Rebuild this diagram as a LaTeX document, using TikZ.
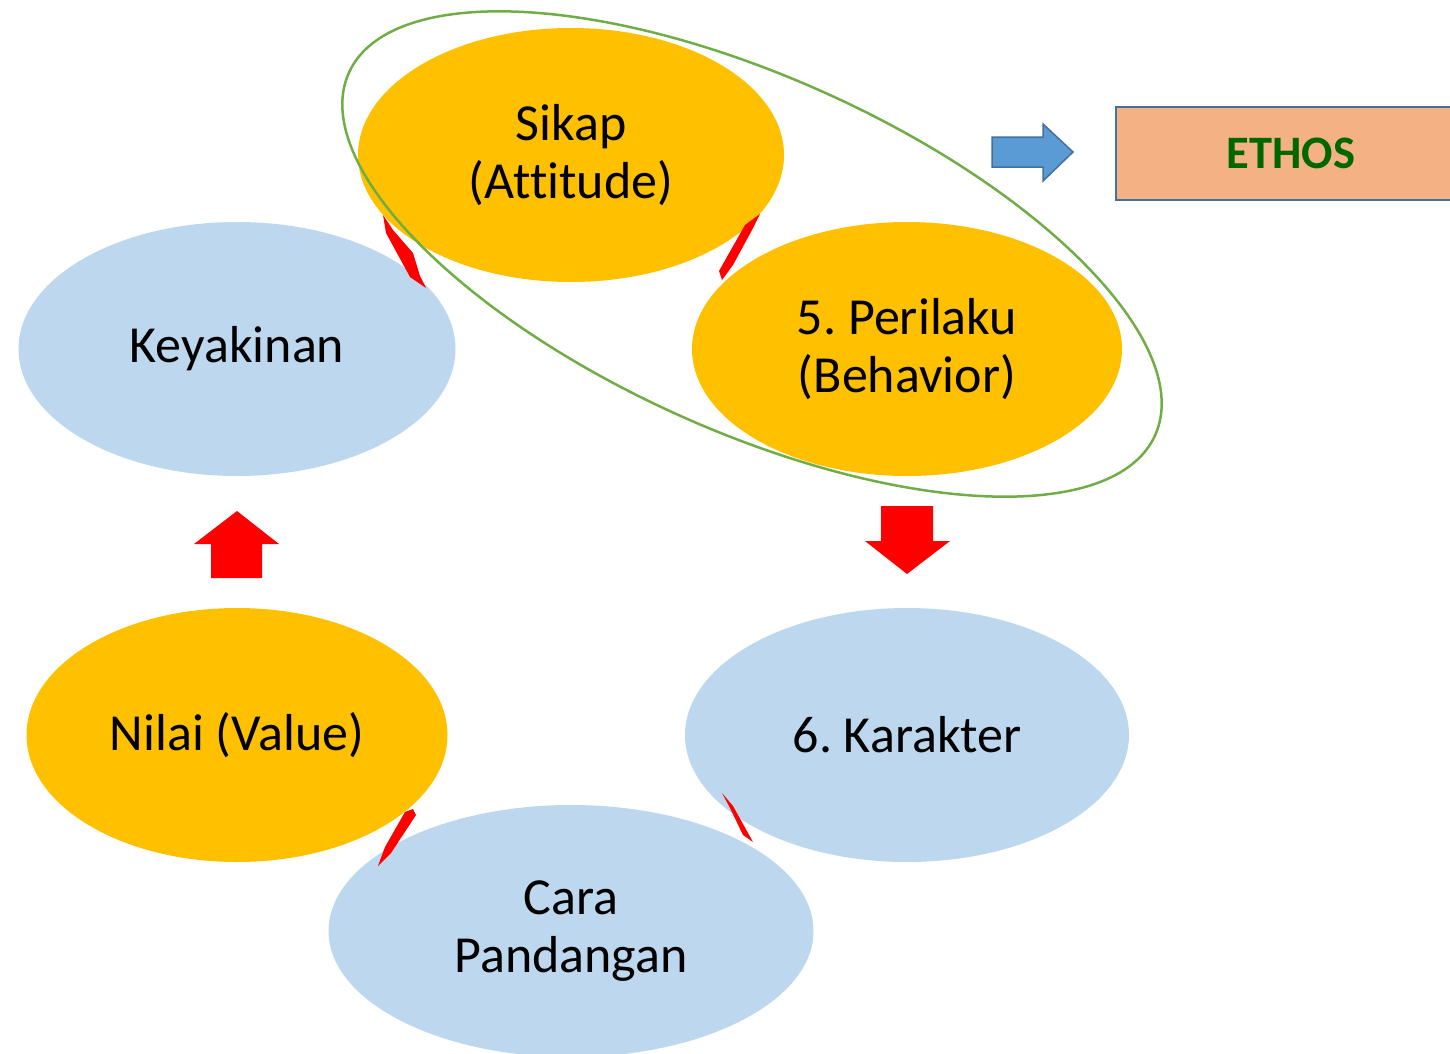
\documentclass[tikz,border=0pt]{standalone}
\usepackage{fontspec}
\setmainfont[Ligatures=CommonOff]{Carlito}
\usepackage{tikz}
\usetikzlibrary{positioning,shapes.geometric}
\frenchspacing

\definecolor{gold}{HTML}{FFC000}
\definecolor{paleblue}{HTML}{BDD7EE}
\definecolor{loopgreen}{HTML}{70AD47}
\definecolor{arrowblue}{HTML}{5B9BD5}
\definecolor{arrowedge}{HTML}{41719C}
\definecolor{salmon}{HTML}{F4B183}
\definecolor{ethosgreen}{HTML}{006600}

\tikzset{
  stage/.style={ellipse, inner sep=0pt, align=center,
    font=\fontsize{52}{58}\selectfont},
  gold stage/.style={stage, fill=gold},
  blue stage/.style={stage, fill=paleblue},
  redblock/.style={fill=red},
  sliver/.style={fill=red},
}

\begin{document}
\begin{tikzpicture}[x=1pt,y=-1pt]
  \useasboundingbox (0,0) rectangle (1450,1053);
  % the six stages
  \node[gold stage, minimum width=426pt, minimum height=254pt] (sikap) at (571,155) {Sikap\\(Attitude)};
  \node[gold stage, minimum width=430pt, minimum height=254pt] (perilaku) at (907,349) {5. Perilaku\\(Behavior)};
  \node[blue stage, minimum width=437pt, minimum height=254pt] (keyakinan) at (237,349) {Keyakinan};
  \node[blue stage, minimum width=444pt, minimum height=254pt] (karakter) at (907,735) {6. Karakter};
  \node[gold stage, minimum width=421pt, minimum height=254pt] (nilai) at (237,735) {Nilai (Value)};
  \node[blue stage, minimum width=485pt, minimum height=252pt] (cara) at (571,931) {Cara\\Pandangan};
  % squeezed arrows between stages
  \fill[sliver] (383,215) -- (386,233) -- (410,277) -- (426,288) -- (420,276) -- (413,253) -- (393,230) -- cycle;
  \fill[sliver] (760,214) -- (752,230) -- (733,265) -- (722,280) -- (719,271) -- (745,225) -- cycle;
  \fill[sliver] (413,809) -- (416,815) -- (391,853) -- (378,866) -- (385,847) -- (405,812) -- cycle;
  \fill[sliver] (722,793) -- (733,806) -- (753,842) -- (743,835) -- (730,808) -- cycle;
  % block arrows
  \fill[redblock] (211,578) -- (211,544) -- (194,544) -- (237,511) -- (279,544) -- (262,544) -- (262,578) -- cycle;
  \fill[redblock] (881,506) -- (933,506) -- (933,541) -- (950,541) -- (907,574) -- (865,541) -- (881,541) -- cycle;
  % ring round sikap and perilaku
  \draw[loopgreen, line width=2.5pt, rotate around={-24.2:(752,254)}] (752,254) ellipse (442 and 177);
  % ethos
  \draw[arrowedge, fill=arrowblue, line width=1.5pt] (992,137) -- (1043,137) -- (1043,124) -- (1073,152) -- (1043,181) -- (1043,167) -- (992,167) -- cycle;
  \node[draw=arrowedge, fill=salmon, line width=2pt, minimum width=350pt, minimum height=93pt,
    anchor=north west, font=\fontsize{46.5}{50}\selectfont\bfseries, text=ethosgreen] (ethos) at (1115,106) {ETHOS};
\end{tikzpicture}
\end{document}
